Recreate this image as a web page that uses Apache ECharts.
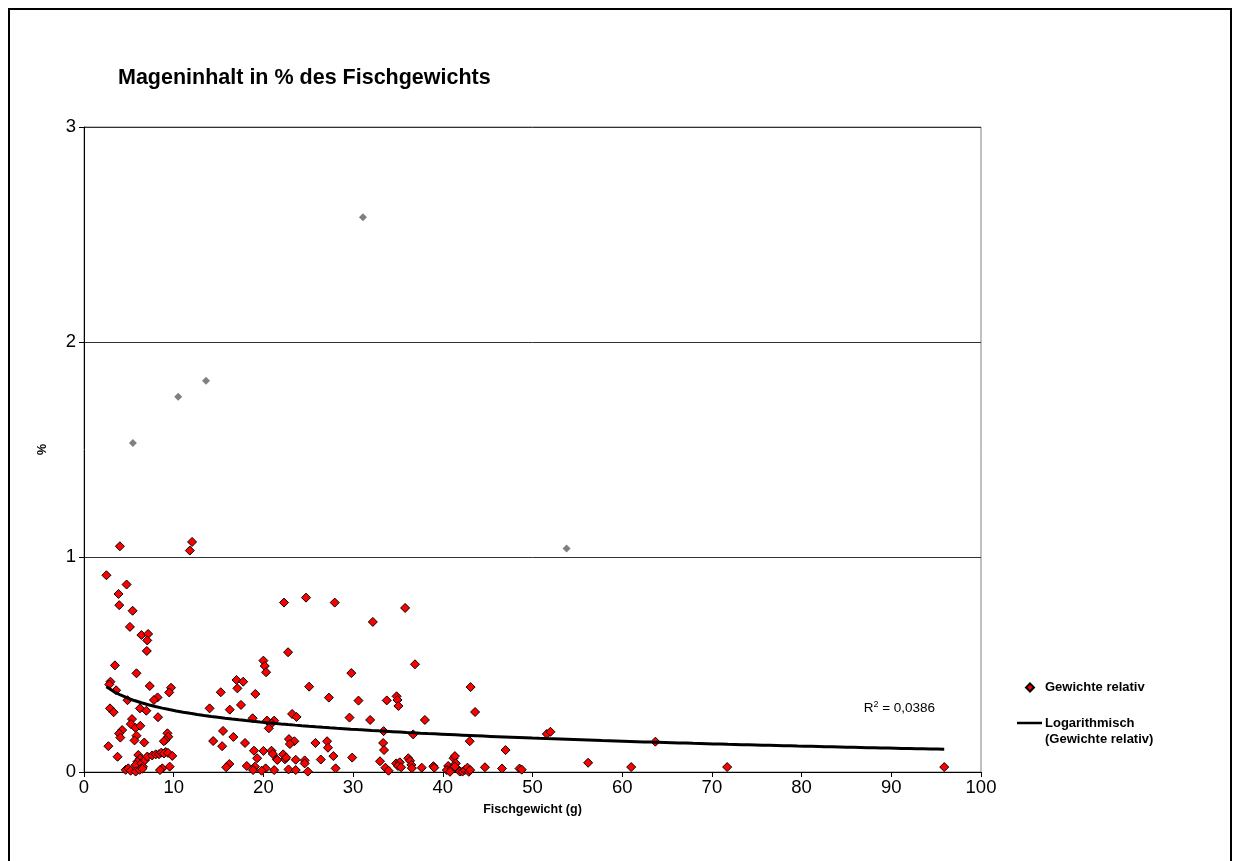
<!DOCTYPE html>
<html>
<head>
<meta charset="utf-8">
<title>Mageninhalt in % des Fischgewichts</title>
<script src="https://cdn.jsdelivr.net/npm/echarts@6/dist/echarts.min.js"></script>
<style>
  html, body { margin: 0; padding: 0; background: #fff; }
  #chart { width: 1233px; height: 861px; }
</style>
</head>
<body>
<div id="chart"></div>
<script>
// Stomach content as % of fish body weight, per fish weight in grams
const gewichteRelativ = [
  [4.0,1.05],[11.8,1.03],[12.05,1.07],
  [2.5,0.915],[4.75,0.872],[3.85,0.828],[3.93,0.776],[5.42,0.75],[5.12,0.675],[6.4,0.637],[7.15,0.642],[7.05,0.612],[7.0,0.563],
  [3.45,0.496],[5.85,0.459],[2.95,0.42],[2.82,0.407],[3.58,0.38],[7.33,0.4],[9.7,0.392],[9.5,0.37],
  [8.2,0.347],[7.8,0.335],[4.85,0.334],[2.9,0.296],[3.3,0.278],[6.24,0.296],[6.95,0.285],[8.25,0.255],
  [5.35,0.246],[5.22,0.223],[5.75,0.205],[6.28,0.215],[4.25,0.195],[3.92,0.179],[4.05,0.16],
  [9.3,0.18],[9.4,0.164],[9.1,0.149],[8.9,0.143],[5.85,0.169],[5.63,0.147],[6.72,0.137],[2.72,0.12],[3.74,0.071],
  [6.05,0.079],[6.24,0.062],[5.95,0.048],[5.76,0.033],[6.39,0.04],[6.58,0.025],[6.8,0.055],
  [7.06,0.072],[7.6,0.077],[8.0,0.082],[8.36,0.083],[8.62,0.09],[9.1,0.093],[8.92,0.086],[9.36,0.089],[9.84,0.075],
  [4.65,0.01],[4.94,0.017],[5.2,0.006],[5.76,0.002],[8.73,0.017],[8.47,0.009],[9.55,0.025],[6.2,0.01],[6.5,0.015],
  [20.0,0.518],[20.15,0.493],[20.3,0.464],[17.0,0.428],[17.75,0.42],[17.1,0.389],[15.25,0.371],[19.1,0.363],
  [17.5,0.312],[14.0,0.296],[16.25,0.29],[18.8,0.25],[20.4,0.239],[21.2,0.239],[20.9,0.226],[20.6,0.203],
  [15.5,0.191],[14.4,0.144],[16.65,0.163],[15.4,0.12],[17.95,0.135],[18.95,0.099],[20.0,0.098],[20.9,0.099],
  [21.05,0.084],[19.3,0.064],[21.5,0.059],[16.2,0.037],[15.85,0.022],[18.15,0.028],[19.05,0.025],[18.85,0.009],
  [20.25,0.017],[19.8,0.006],[21.2,0.009],
  [22.3,0.788],[24.75,0.811],[27.95,0.788],[35.8,0.763],[32.2,0.698],[22.75,0.557],[36.9,0.501],[29.8,0.46],
  [25.1,0.397],[43.1,0.395],[27.3,0.346],[34.85,0.352],[34.95,0.335],[35.05,0.307],[30.6,0.332],[33.75,0.333],
  [43.6,0.279],[23.2,0.27],[23.7,0.256],[29.6,0.253],[31.9,0.242],[38.0,0.242],[33.4,0.19],[36.7,0.175],
  [22.85,0.153],[23.45,0.143],[22.95,0.13],[25.8,0.135],[27.1,0.143],[27.2,0.113],[33.35,0.135],[33.45,0.102],
  [43.0,0.143],[22.2,0.082],[22.4,0.059],[22.55,0.067],[21.55,0.056],[23.6,0.057],[24.6,0.054],[24.6,0.04],
  [26.4,0.058],[27.8,0.074],[29.9,0.067],[33.0,0.05],[33.6,0.02],[33.95,0.006],[34.8,0.04],[35.2,0.045],
  [35.0,0.028],[35.35,0.022],[36.15,0.064],[36.35,0.052],[36.5,0.033],[36.55,0.018],[37.65,0.02],[38.95,0.027],
  [39.05,0.02],[22.8,0.012],[23.6,0.009],[24.95,0.002],[28.05,0.017],
  [41.2,0.064],[41.35,0.074],[41.45,0.04],[40.6,0.028],[40.45,0.009],[41.0,0.017],[40.8,0.001],[41.65,0.013],
  [41.9,0.002],[41.35,0.025],[42.2,0.002],[42.45,0.009],[42.75,0.02],[42.9,0.001],[43.05,0.009],[44.7,0.022],
  [46.6,0.016],[47.0,0.102],[48.55,0.016],[48.8,0.011],
  [51.6,0.177],[52.0,0.187],[63.7,0.141],[56.2,0.043],[61.0,0.023],[71.7,0.023],[95.9,0.023]
];

// Outliers drawn separately in grey
const ausreisser = [[5.45,1.53],[10.5,1.745],[13.6,1.82],[31.1,2.58],[53.8,1.04]];

// Logarithmic trend y = a*ln(x) + b
const trendA = -0.0798;
const trendB = 0.470;
const rQuadrat = '0,0386';

const xTicks = { min: 0, max: 100, interval: 10 };
const yTicks = { min: 0, max: 3, interval: 1 };

// Trend curve spans the range of the fitted series
const xs = gewichteRelativ.map(p => p[0]);
const xMin = Math.min(...xs), xMax = Math.max(...xs);
const trendLine = [];
for (let i = 0; i <= 120; i++) {
  const x = xMin + (xMax - xMin) * i / 120;
  trendLine.push([x, trendA * Math.log(x) + trendB]);
}

const FONT = '"Liberation Sans", Arial, sans-serif';
const chart = echarts.init(document.getElementById('chart'), null, { renderer: 'canvas' });

chart.setOption({
  backgroundColor: '#ffffff',
  animation: false,
  title: {
    text: 'Mageninhalt in % des Fischgewichts',
    left: 118, top: 67, padding: 0,
    textStyle: { fontFamily: FONT, fontSize: 21.5, fontWeight: 'bold', color: '#000' }
  },
  grid: {
    left: 84, top: 127, right: 252, bottom: 89,
    show: true, borderColor: '#808080', borderWidth: 1, backgroundColor: '#fff'
  },
  xAxis: {
    type: 'value', min: xTicks.min, max: xTicks.max, interval: xTicks.interval,
    name: 'Fischgewicht (g)', nameLocation: 'middle', nameGap: 31,
    nameTextStyle: { fontFamily: FONT, fontSize: 12.5, fontWeight: 'bold', color: '#000' },
    axisLine: { lineStyle: { color: '#000', width: 1 } },
    axisTick: { show: true, length: 5, inside: false, lineStyle: { color: '#000' } },
    axisLabel: { fontFamily: FONT, fontSize: 18.5, color: '#000', margin: 6 },
    splitLine: { show: false }
  },
  yAxis: {
    type: 'value', min: yTicks.min, max: yTicks.max, interval: yTicks.interval,
    name: '%', nameLocation: 'middle', nameGap: 35,
    nameTextStyle: { fontFamily: FONT, fontSize: 12.5, fontWeight: 'bold', color: '#000' },
    axisLine: { show: true, lineStyle: { color: '#000', width: 1 } },
    axisTick: { show: true, length: 5, lineStyle: { color: '#000' } },
    axisLabel: { fontFamily: FONT, fontSize: 18.5, color: '#000', margin: 8 },
    splitLine: { show: true, lineStyle: { color: '#333', width: 1 } }
  },
  legend: [
    {
      data: ['Gewichte relativ'],
      left: 1025, top: 681, orient: 'vertical', padding: 0,
      itemWidth: 8, itemHeight: 8,
      textStyle: { fontFamily: FONT, fontSize: 13, fontWeight: 'bold', color: '#000', padding: [0, 0, 0, 6] }
    },
    {
      // leading blank line keeps the line icon level with the first text line
      data: [{ name: 'Logarithmisch\n(Gewichte relativ)', icon: 'rect' }],
      formatter: name => '\n' + name,
      left: 1017, top: 699, orient: 'vertical', padding: 0,
      itemWidth: 25, itemHeight: 2.5,
      textStyle: { fontFamily: FONT, fontSize: 13, fontWeight: 'bold', color: '#000',
                   lineHeight: 16, padding: [0, 0, 0, -2] }
    }
  ],
  series: [
    {
      name: 'Gewichte relativ', type: 'scatter', data: gewichteRelativ,
      symbol: 'diamond', symbolSize: 9, z: 3,
      itemStyle: { color: '#ff0000', borderColor: '#000', borderWidth: 1, opacity: 1 }
    },
    {
      name: 'Ausreißer', type: 'scatter', data: ausreisser,
      symbol: 'diamond', symbolSize: 8, z: 3,
      itemStyle: { color: '#808080', opacity: 1 }
    },
    {
      name: 'Logarithmisch\n(Gewichte relativ)', type: 'line', data: trendLine,
      showSymbol: false, smooth: false, z: 4,
      lineStyle: { color: '#000', width: 3 },
      itemStyle: { color: '#000' },
      markPoint: {
        symbol: 'rect', symbolSize: 1,
        itemStyle: { color: 'transparent' },
        data: [{ coord: [90.9, 0.298], value: 0 }],
        label: {
          show: true, position: 'inside',
          formatter: '{r|R}{s|2}{r| = ' + rQuadrat + '}',
          rich: {
            r: { fontFamily: FONT, fontSize: 13.5, color: '#000' },
            s: { fontFamily: FONT, fontSize: 9, color: '#000', verticalAlign: 'top', padding: [0, 0, 6, 0] }
          }
        }
      }
    }
  ],
  graphic: [
    {
      type: 'rect', silent: true, z: 100,
      shape: { x: 9, y: 9, width: 1222, height: 870 },
      style: { fill: 'none', stroke: '#000', lineWidth: 2 }
    }
  ]
});
</script>
</body>
</html>
